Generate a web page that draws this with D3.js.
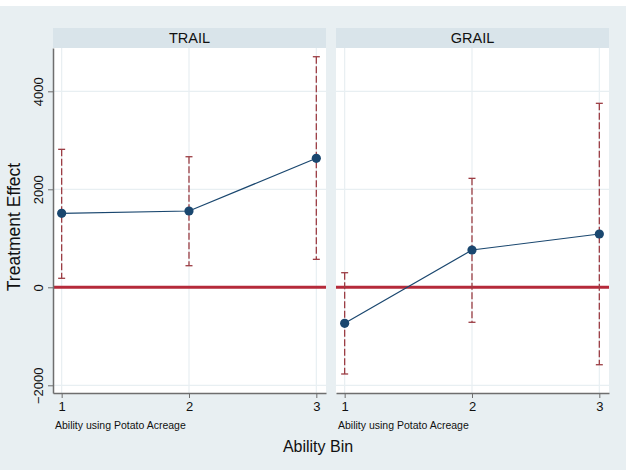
<!DOCTYPE html>
<html>
<head>
<meta charset="utf-8">
<script src="https://cdn.jsdelivr.net/npm/d3@7"></script>
<style>
  body { margin: 0; background: #fff; }
  text { font-family: "Liberation Sans", Arial, sans-serif; }
</style>
</head>
<body>
<svg id="chart" width="626" height="470"></svg>
<script>
// data
var bins = [1, 2, 3];
var panels = ["TRAIL", "GRAIL"];
var trailEst = [1510, 1557, 2633];
var trailLo = [184, 441, 571];
var trailHi = [2816, 2665, 4706];
var grailEst = [-735, 761, 1088];
var grailLo = [-1769, -714, -1580];
var grailHi = [298, 2224, 3755];
var yTicks = [-2000, 0, 2000, 4000];

var series = [
  { name: panels[0], est: trailEst, lo: trailLo, hi: trailHi },
  { name: panels[1], est: grailEst, lo: grailLo, hi: grailHi }
];

var svg = d3.select("#chart");

// outer background (stata style)
svg.append("rect").attr("x", 0).attr("y", 6).attr("width", 626).attr("height", 464)
  .style("fill", "#e8eff2");

var plotTop = 48, plotBottom = 393;
var y = d3.scaleLinear().domain([-2157, 4884]).range([plotBottom, plotTop]);

var panelX = [53, 336];
var panelW = 273;

series.forEach(function (s, i) {
  var x0 = panelX[i];
  var x = d3.scaleLinear().domain([0.932, 3.076]).range([x0, x0 + panelW]);
  var g = svg.append("g");

  // header strip
  g.append("rect").attr("x", x0).attr("y", 28).attr("width", panelW).attr("height", 20)
    .style("fill", "#d9e4ea");
  g.append("text").attr("x", x0 + panelW / 2).attr("y", 43)
    .attr("text-anchor", "middle").style("font-size", "14.5px").style("fill", "#111")
    .text(s.name);

  // plot region
  g.append("rect").attr("x", x0).attr("y", plotTop).attr("width", panelW).attr("height", plotBottom - plotTop)
    .style("fill", "#fff");

  // grid
  g.selectAll(".hg").data(yTicks).enter().append("line")
    .attr("x1", x0).attr("x2", x0 + panelW)
    .attr("y1", function (d) { return y(d); }).attr("y2", function (d) { return y(d); })
    .style("stroke", "#e8eff2").style("stroke-width", 1.2);
  g.selectAll(".vg").data(bins).enter().append("line")
    .attr("x1", function (d) { return x(d); }).attr("x2", function (d) { return x(d); })
    .attr("y1", plotTop).attr("y2", plotBottom)
    .style("stroke", "#e8eff2").style("stroke-width", 1.2);

  // zero line
  g.append("line").attr("x1", x0).attr("x2", x0 + panelW)
    .attr("y1", y(0)).attr("y2", y(0))
    .style("stroke", "#b52a3a").style("stroke-width", 3);

  // error bars
  var eb = g.selectAll(".eb").data(bins).enter().append("g");
  eb.append("line")
    .attr("x1", function (d) { return x(d); }).attr("x2", function (d) { return x(d); })
    .attr("y1", function (d, j) { return y(s.hi[j]); })
    .attr("y2", function (d, j) { return y(s.lo[j]); })
    .style("stroke", "#9c3d44").style("stroke-width", 1.3)
    .style("stroke-dasharray", "7,2.5");
  [s.hi, s.lo].forEach(function (arr) {
    eb.append("line")
      .attr("x1", function (d) { return x(d) - 3.5; }).attr("x2", function (d) { return x(d) + 3.5; })
      .attr("y1", function (d, j) { return y(arr[j]); })
      .attr("y2", function (d, j) { return y(arr[j]); })
      .style("stroke", "#9c3d44").style("stroke-width", 1.3);
  });

  // estimate line and markers
  var line = d3.line()
    .x(function (d) { return x(d); })
    .y(function (d, j) { return y(s.est[j]); });
  g.append("path").datum(bins).attr("d", line)
    .style("fill", "none").style("stroke", "#1a476f").style("stroke-width", 1.2);
  g.selectAll(".pt").data(bins).enter().append("circle")
    .attr("cx", function (d) { return x(d); })
    .attr("cy", function (d, j) { return y(s.est[j]); })
    .attr("r", 4.6).style("fill", "#1a476f");

  // x axis
  var xAxis = d3.axisBottom(x).tickValues(bins).tickFormat(d3.format("d"))
    .tickSizeInner(5).tickSizeOuter(0).tickPadding(4);
  var ax = g.append("g").attr("transform", "translate(0," + plotBottom + ")").call(xAxis);
  ax.select(".domain").style("stroke", "#6e6e6e").style("stroke-width", 1.5);
  ax.selectAll(".tick line").style("stroke", "#6e6e6e");
  ax.selectAll(".tick text").style("font-size", "13px").style("fill", "#111")
    .style("font-family", "'Liberation Sans', Arial, sans-serif");

  g.append("text").attr("x", x0 + 2).attr("y", 429)
    .style("font-size", "10.5px").style("fill", "#111")
    .text("Ability using Potato Acreage");
});

// y axis on the left panel
var yAxis = d3.axisLeft(y).tickValues(yTicks).tickFormat(d3.format("d"))
  .tickSizeInner(5).tickSizeOuter(0).tickPadding(3);
var ay = svg.append("g").attr("transform", "translate(53,0)").call(yAxis);
ay.select(".domain").style("stroke", "#6e6e6e").style("stroke-width", 1.5);
ay.selectAll(".tick line").style("stroke", "#6e6e6e");
ay.selectAll(".tick text")
  .style("font-size", "13px").style("fill", "#111")
  .style("font-family", "'Liberation Sans', Arial, sans-serif")
  .attr("text-anchor", "middle")
  .attr("x", 0).attr("dy", 0)
  .attr("transform", "translate(-10,0) rotate(-90)");

// axis titles
svg.append("text").attr("x", 318).attr("y", 452)
  .attr("text-anchor", "middle").style("font-size", "16px").style("fill", "#111")
  .text("Ability Bin");
svg.append("text").attr("transform", "translate(20,227) rotate(-90)")
  .attr("text-anchor", "middle").style("font-size", "17.5px").style("fill", "#111")
  .text("Treatment Effect");
</script>
</body>
</html>
